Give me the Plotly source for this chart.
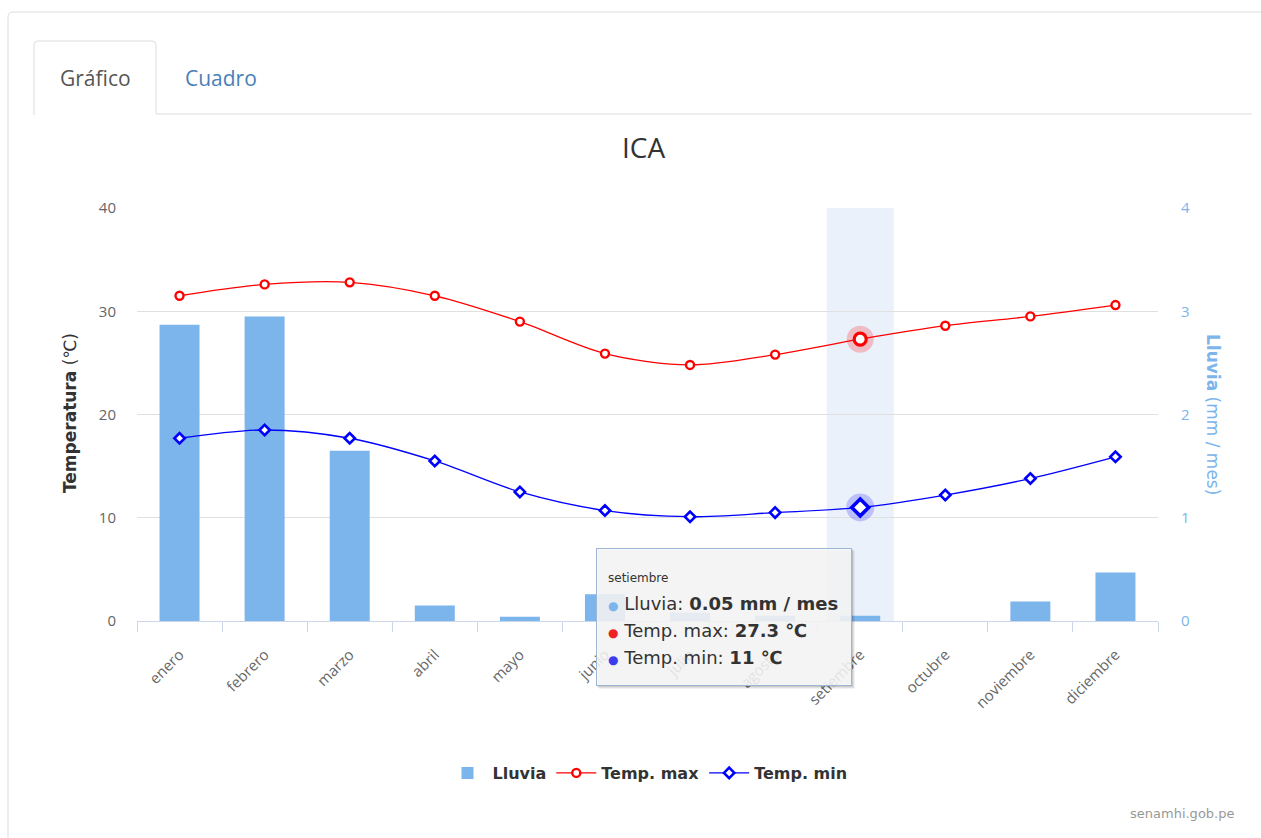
import plotly.graph_objects as go

# Monthly climate normals for Ica
meses = ["enero", "febrero", "marzo", "abril", "mayo", "junio", "julio",
         "agosto", "setiembre", "octubre", "noviembre", "diciembre"]
lluvia = [2.87, 2.95, 1.65, 0.15, 0.04, 0.26, 0.08, 0.05, 0.05, 0.0, 0.19, 0.47]
temp_max = [31.5, 32.6, 32.8, 31.5, 29.0, 25.9, 24.8, 25.8, 27.3, 28.6, 29.5, 30.6]
temp_min = [17.7, 18.5, 17.7, 15.5, 12.5, 10.7, 10.1, 10.5, 11.0, 12.2, 13.8, 15.9]
sel = 8  # highlighted month (setiembre)

W, H = 1261, 838
L, R, T, B = 137, 1158, 208, 621


def px(x):
    return (x - L) / (R - L)


def py(y):
    return (B - y) / (B - T)


FONT = "Open Sans"
WIDE = "DejaVu Sans"
BAR_C = "#7cb5ec"
RED = "#ff0000"
BLUE = "#0000ff"

fig = go.Figure()

# rain bars on the base (right) axis, temperatures on the overlaying (left) axis
fig.add_trace(go.Bar(
    x=meses, y=lluvia, name="Lluvia", yaxis="y",
    marker=dict(color=BAR_C, line=dict(width=0)), width=0.47,
))
fig.add_trace(go.Scatter(
    x=meses, y=temp_max, name="Temp. max", mode="lines+markers", yaxis="y2",
    line=dict(color=RED, width=1.3, shape="spline", smoothing=0.9),
    marker=dict(symbol="circle", size=8, color="white", line=dict(color=RED, width=2.4)),
))
fig.add_trace(go.Scatter(
    x=meses, y=temp_min, name="Temp. min", mode="lines+markers", yaxis="y2",
    line=dict(color=BLUE, width=1.3, shape="spline", smoothing=0.9),
    marker=dict(symbol="diamond", size=8, color="white", line=dict(color=BLUE, width=2.6)),
))

# hover state of the selected month: halo + enlarged marker
fig.add_trace(go.Scatter(
    x=[meses[sel]], y=[temp_max[sel]], mode="markers", showlegend=False, yaxis="y2",
    marker=dict(symbol="circle", size=27, color="rgba(255,0,0,0.22)", line=dict(width=0)),
))
fig.add_trace(go.Scatter(
    x=[meses[sel]], y=[temp_max[sel]], mode="markers", showlegend=False, yaxis="y2",
    marker=dict(symbol="circle", size=12, color="white", line=dict(color=RED, width=3.2)),
))
fig.add_trace(go.Scatter(
    x=[meses[sel]], y=[temp_min[sel]], mode="markers", showlegend=False, yaxis="y2",
    marker=dict(symbol="circle", size=28, color="rgba(0,0,255,0.2)", line=dict(width=0)),
))
fig.add_trace(go.Scatter(
    x=[meses[sel]], y=[temp_min[sel]], mode="markers", showlegend=False, yaxis="y2",
    marker=dict(symbol="diamond", size=13, color="white", line=dict(color=BLUE, width=3.6)),
))

shapes = [
    # crosshair band on the selected category
    dict(type="rect", xref="x", yref="paper", x0=sel - 0.394, x1=sel + 0.394, y0=0, y1=1,
         fillcolor="rgba(204,222,246,0.42)", line=dict(width=0), layer="below"),
    # outer panel border
    dict(type="path", xref="paper", yref="paper",
         path=f"M {px(8)},{py(900)} L {px(8)},{py(17)} Q {px(8)},{py(12)} {px(13)},{py(12)} L {px(1300)},{py(12)}",
         line=dict(color="#dddddd", width=1)),
    # active tab outline and tab strip baseline
    dict(type="path", xref="paper", yref="paper",
         path=(f"M {px(34)},{py(115)} L {px(34)},{py(45)} Q {px(34)},{py(41)} {px(38)},{py(41)} "
               f"L {px(152)},{py(41)} Q {px(156)},{py(41)} {px(156)},{py(45)} "
               f"L {px(156)},{py(114)} L {px(1252)},{py(114)}"),
         line=dict(color="#dddddd", width=1)),
]


def note(text, x, y, **kw):
    d = dict(text=text, x=px(x), y=py(y), xref="paper", yref="paper", showarrow=False,
             xanchor="center", yanchor="middle")
    d.update(kw)
    return d


annotations = [
    note("Gráfico", 95, 78, font=dict(family=FONT, size=21, color="#555555")),
    note("Cuadro", 221, 78, font=dict(family=FONT, size=21, color="#4a7fb8")),
    note("ICA", 643, 147, font=dict(family=FONT, size=28, color="#333333")),
    note("<b>Temperatura</b> (℃)", 70, 413, textangle=-90,
         font=dict(family=WIDE, size=17, color="#333333")),
    note("<b>Lluvia</b> (mm / mes)", 1213, 414, textangle=90,
         font=dict(family=WIDE, size=17, color=BAR_C)),
    note("senamhi.gob.pe", 1236, 813, xanchor="right",
         font=dict(family=WIDE, size=13, color="#999999")),
]

# tooltip: shadow, box, then text lines
tx0, ty0, tw, th = 596, 548, 256, 138
for off, a in [(3, 0.05), (2, 0.07), (1, 0.10)]:
    annotations.append(note(" ", tx0 + off, ty0 + off, xanchor="left", yanchor="top",
                            width=tw, height=th, bgcolor=f"rgba(0,0,0,{a})",
                            borderpad=0, borderwidth=0))
annotations.append(note(" ", tx0, ty0, xanchor="left", yanchor="top",
                        width=tw - 2, height=th - 2, bgcolor="rgba(250,250,250,0.86)",
                        bordercolor="#9fb7d6", borderwidth=1, borderpad=0))
annotations.append(note(meses[sel], 606, 578, xanchor="left",
                        font=dict(family=WIDE, size=12, color="#333333")))


def dot(color):
    return f"<span style='font-size:12px;color:{color}'>●</span>"


tip_lines = [
    (f"{dot(BAR_C)} Lluvia: <b>{lluvia[sel]:g} mm / mes</b>", 603),
    (f"{dot('#ee2222')} Temp. max: <b>{temp_max[sel]:g} ℃</b>", 630),
    (f"{dot('#3c3cee')} Temp. min: <b>{temp_min[sel]:g} ℃</b>", 657),
]
for txt, yy in tip_lines:
    annotations.append(note(txt, 606, yy, xanchor="left",
                            font=dict(family=WIDE, size=18, color="#333333")))

fig.update_layout(
    width=W, height=H, autosize=False,
    margin=dict(l=L, r=W - R, t=T, b=H - B, pad=0),
    paper_bgcolor="white", plot_bgcolor="white",
    font=dict(family=FONT, color="#666666"),
    showlegend=True,
    legend=dict(orientation="h", x=0.5, xanchor="center", y=py(773), yanchor="middle",
                font=dict(family=WIDE, size=16, color="#333333", weight="bold"),
                itemwidth=40, traceorder="normal", bgcolor="rgba(0,0,0,0)"),
    xaxis=dict(type="category", categoryorder="array", categoryarray=meses,
               range=[-0.5, 11.5], tickson="boundaries", ticks="outside", ticklen=10,
               tickcolor="#ccd6eb", showline=True, linecolor="#ccd6eb", linewidth=1,
               showgrid=False, tickangle=-45, ticklabelstandoff=18,
               tickfont=dict(size=15, color="#666666", family=FONT),
               fixedrange=True),
    yaxis=dict(range=[0, 4], tickvals=[0, 1, 2, 3, 4], side="right",
               showgrid=False, zeroline=False, showline=False, ticks="", ticklabelstandoff=22,
               tickfont=dict(size=15, color=BAR_C, family=FONT)),
    yaxis2=dict(range=[0, 40], tickvals=[0, 10, 20, 30, 40], overlaying="y", side="left",
                showgrid=True, gridcolor="#e0e0e0", zeroline=False, showline=False, ticks="",
                ticklabelstandoff=20, tickfont=dict(size=15, color="#666666", family=FONT)),
    shapes=shapes,
    annotations=annotations,
)

fig.write_html("out.html")
